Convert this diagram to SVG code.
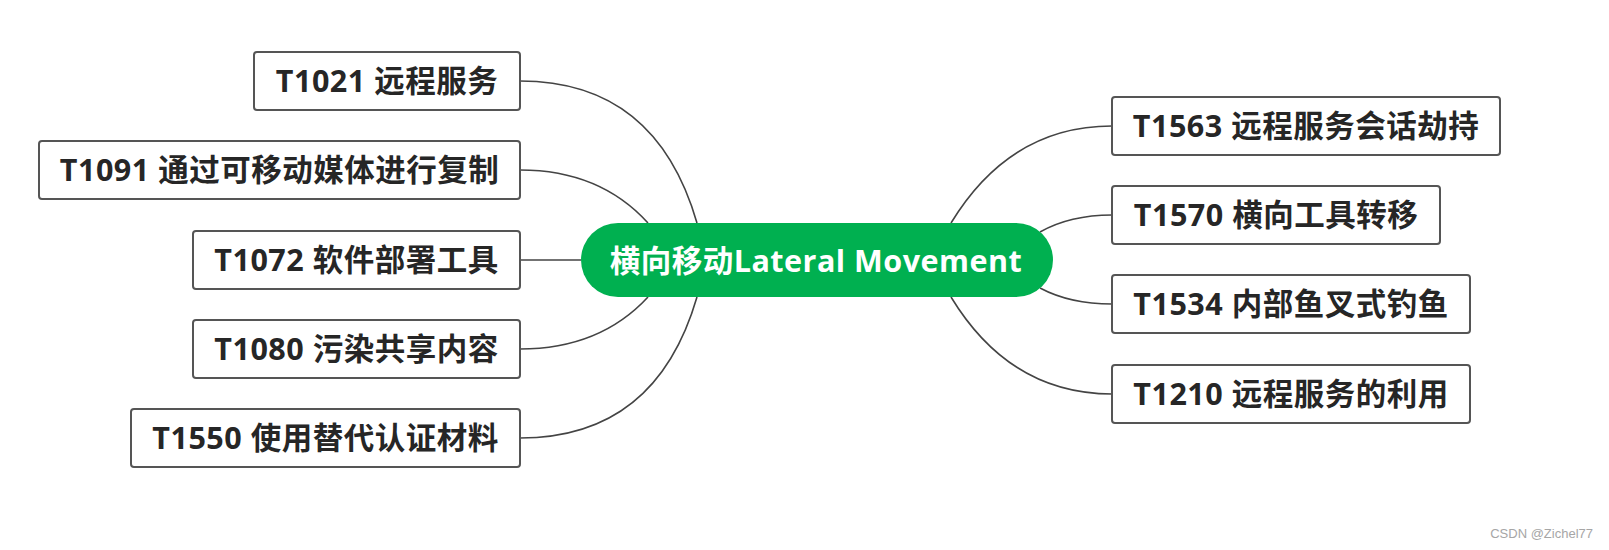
<svg xmlns="http://www.w3.org/2000/svg" width="1609" height="550" viewBox="0 0 1609 550">
<style>
.box{fill:#ffffff;stroke:#555555;stroke-width:2}
.lbl{font-family:"Open Sans","Noto Sans CJK SC",sans-serif;font-weight:bold;font-size:30.5px;letter-spacing:0.5px;fill:#262626;text-anchor:middle}
.ctr{font-family:"Open Sans","Noto Sans CJK SC",sans-serif;font-weight:bold;font-size:30.5px;letter-spacing:0.5px;fill:#ffffff;text-anchor:middle}
.conn{fill:none;stroke:#444444;stroke-width:1.6}
.wm{font-family:"Liberation Sans",Arial,sans-serif;font-size:13px;fill:#a6a6a6;text-anchor:end}
</style>
<rect width="1609" height="550" fill="#ffffff"/>
<g id="connectors">
<path class="conn" d="M520,81 Q656,81 697,223"/>
<path class="conn" d="M520,170 Q600,170 648,223"/>
<path class="conn" d="M520,260 L581,260"/>
<path class="conn" d="M520,349 Q600,349 648,297"/>
<path class="conn" d="M520,438 Q656,438 697,297"/>
<path class="conn" d="M951,223 Q1010,126 1112,126"/>
<path class="conn" d="M1040,232 Q1070,215 1112,215"/>
<path class="conn" d="M1040,288 Q1070,304 1112,304"/>
<path class="conn" d="M951,297 Q1010,394 1112,394"/>
</g>
<g id="center">
<rect x="581" y="223" width="472" height="74" rx="37" fill="#00b050"/>
<text class="ctr" x="816" y="272">横向移动Lateral Movement</text>
</g>
<g id="t1021">
<rect class="box" x="254" y="52" width="266" height="58" rx="3"/>
<text class="lbl" x="387" y="92">T1021 远程服务</text>
</g>
<g id="t1091">
<rect class="box" x="39" y="141" width="481" height="58" rx="3"/>
<text class="lbl" x="279.5" y="181">T1091 通过可移动媒体进行复制</text>
</g>
<g id="t1072">
<rect class="box" x="193" y="231" width="327" height="58" rx="3"/>
<text class="lbl" x="356.5" y="271">T1072 软件部署工具</text>
</g>
<g id="t1080">
<rect class="box" x="193" y="320" width="327" height="58" rx="3"/>
<text class="lbl" x="356.5" y="360">T1080 污染共享内容</text>
</g>
<g id="t1550">
<rect class="box" x="131" y="409" width="389" height="58" rx="3"/>
<text class="lbl" x="325.5" y="449">T1550 使用替代认证材料</text>
</g>
<g id="t1563">
<rect class="box" x="1112" y="97" width="388" height="58" rx="3"/>
<text class="lbl" x="1306" y="137">T1563 远程服务会话劫持</text>
</g>
<g id="t1570">
<rect class="box" x="1112" y="186" width="328" height="58" rx="3"/>
<text class="lbl" x="1276" y="226">T1570 横向工具转移</text>
</g>
<g id="t1534">
<rect class="box" x="1112" y="275" width="358" height="58" rx="3"/>
<text class="lbl" x="1291" y="315">T1534 内部鱼叉式钓鱼</text>
</g>
<g id="t1210">
<rect class="box" x="1112" y="365" width="358" height="58" rx="3"/>
<text class="lbl" x="1291" y="405">T1210 远程服务的利用</text>
</g>
<text class="wm" x="1593" y="538">CSDN @Zichel77</text>
</svg>
